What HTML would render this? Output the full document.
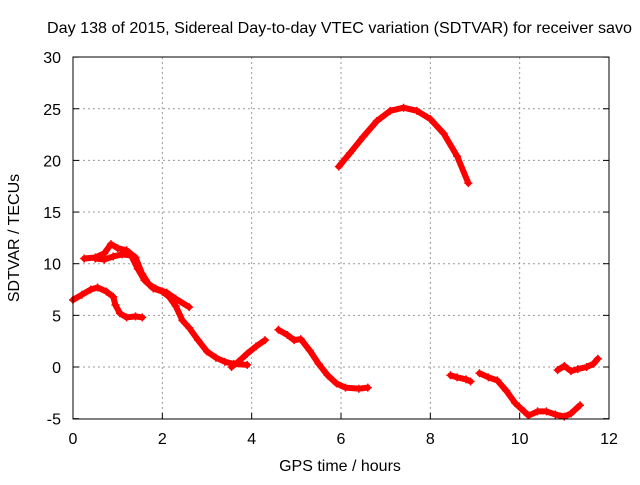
<!DOCTYPE html>
<html><head><meta charset="utf-8"><style>
body{margin:0;background:#fff}
svg text{font-family:"Liberation Sans",sans-serif;font-size:16px;fill:#000}
</style></head><body>
<svg id="chart" width="640" height="480" xmlns="http://www.w3.org/2000/svg">
<text x="47" y="33" textLength="585" lengthAdjust="spacingAndGlyphs">Day 138 of 2015, Sidereal Day-to-day VTEC variation (SDTVAR) for receiver savo</text>
<text x="340" y="471" text-anchor="middle">GPS time / hours</text>
<text x="0" y="0" text-anchor="middle" transform="translate(19,238) rotate(-90)">SDTVAR / TECUs</text>
<g id="grid"></g><g id="marks"></g>
<rect x="73" y="57" width="536" height="362" fill="none" stroke="#000" stroke-width="1"/>
</svg>
<script>
const xTicks=[0,2,4,6,8,10,12];
const yTicks=[-5,0,5,10,15,20,25,30];
const seg1=[[0,6.5],[0.2,7.0],[0.4,7.5],[0.55,7.7],[0.75,7.3],[0.9,6.8],[0.95,6.0],[1.05,5.2],[1.2,4.8],[1.4,4.9],[1.55,4.8]];
const seg2=[[0.25,10.5],[0.5,10.6],[0.7,11.0],[0.85,11.9],[1.0,11.5],[1.2,11.3],[1.4,10.6],[1.55,9.0],[1.7,8.0],[1.85,7.6],[2.1,7.2],[2.3,6.6],[2.6,5.8]];
const seg3=[[0.5,10.5],[0.7,10.4],[0.9,10.7],[1.1,10.9],[1.3,10.8],[1.45,9.5],[1.6,8.4],[1.8,7.6],[2.0,7.3],[2.15,6.8],[2.3,5.9],[2.45,4.5],[2.6,3.8],[2.8,2.6],[3.0,1.5],[3.2,0.9],[3.4,0.5],[3.6,0.3],[3.9,0.2]];
const seg4=[[3.55,0],[3.7,0.5],[3.9,1.3],[4.1,2.0],[4.3,2.6]];
const seg5=[[4.6,3.6],[4.8,3.1],[4.95,2.6],[5.1,2.7],[5.3,1.6],[5.5,0.3],[5.7,-0.8],[5.9,-1.6],[6.1,-2.0],[6.4,-2.1],[6.6,-2.0]];
const seg6=[[5.95,19.4],[6.2,20.7],[6.5,22.3],[6.8,23.8],[7.1,24.8],[7.4,25.1],[7.7,24.8],[8.0,24.0],[8.3,22.6],[8.6,20.4],[8.85,17.8]];
const seg7=[[8.45,-0.8],[8.6,-1.0],[8.8,-1.2],[8.9,-1.4]];
const seg8=[[9.1,-0.6],[9.3,-1.0],[9.5,-1.3],[9.7,-2.3],[9.9,-3.5],[10.1,-4.3],[10.2,-4.7],[10.4,-4.3],[10.6,-4.3],[10.8,-4.6],[11.0,-4.8],[11.15,-4.5],[11.35,-3.7]];
const seg9=[[10.85,-0.3],[11.0,0.1],[11.15,-0.4],[11.3,-0.2],[11.5,0],[11.65,0.3],[11.75,0.8]];
const segments=[seg1,seg2,seg3,seg4,seg5,seg6,seg7,seg8,seg9];
const NS="http://www.w3.org/2000/svg";
const X=v=>73+v*(536/12);
const Y=v=>367-v*10.33;
const grid=document.getElementById('grid'),marks=document.getElementById('marks');
function mk(t,a,p){const e=document.createElementNS(NS,t);for(const k in a)e.setAttribute(k,a[k]);p.appendChild(e);return e;}
xTicks.forEach(t=>{
 if(t>0&&t<12){const l=mk('line',{x1:X(t),x2:X(t),y1:57,y2:419,stroke:'#999','stroke-dasharray':'2,3'},grid);
 
 }
 mk('line',{x1:X(t),x2:X(t),y1:419,y2:413,stroke:'#000'},grid);
 const tx=mk('text',{x:X(t),y:444,'text-anchor':'middle'},grid);tx.textContent=t;
 
 
});
yTicks.forEach(t=>{
 if(t>-5&&t<30){const l=mk('line',{x1:73,x2:609,y1:Y(t),y2:Y(t),stroke:'#999','stroke-dasharray':'2,3'},grid);
 
 }
 mk('line',{x1:73,x2:79,y1:Y(t),y2:Y(t),stroke:'#000'},grid);
 mk('line',{x1:609,x2:603,y1:Y(t),y2:Y(t),stroke:'#000'},grid);
 const tx=mk('text',{x:61,y:Y(t)+6,'text-anchor':'end'},grid);tx.textContent=t;
 
 
});
segments.forEach((s,i)=>{
 const pl=mk('polyline',{points:s.map(p=>X(p[0])+','+Y(p[1])).join(' '),fill:'none',stroke:'#f00','stroke-width':6,'stroke-linejoin':'round','stroke-linecap':'round'},marks);
 
 
 s.forEach(p=>{const x=X(p[0]),y=Y(p[1]);
  const c=mk('path',{d:`M${x-4},${y}H${x+4}M${x},${y-4}V${y+4}`,stroke:'#f00','stroke-width':1.5},marks);
  
  
 });
});
</script>
</body></html>
